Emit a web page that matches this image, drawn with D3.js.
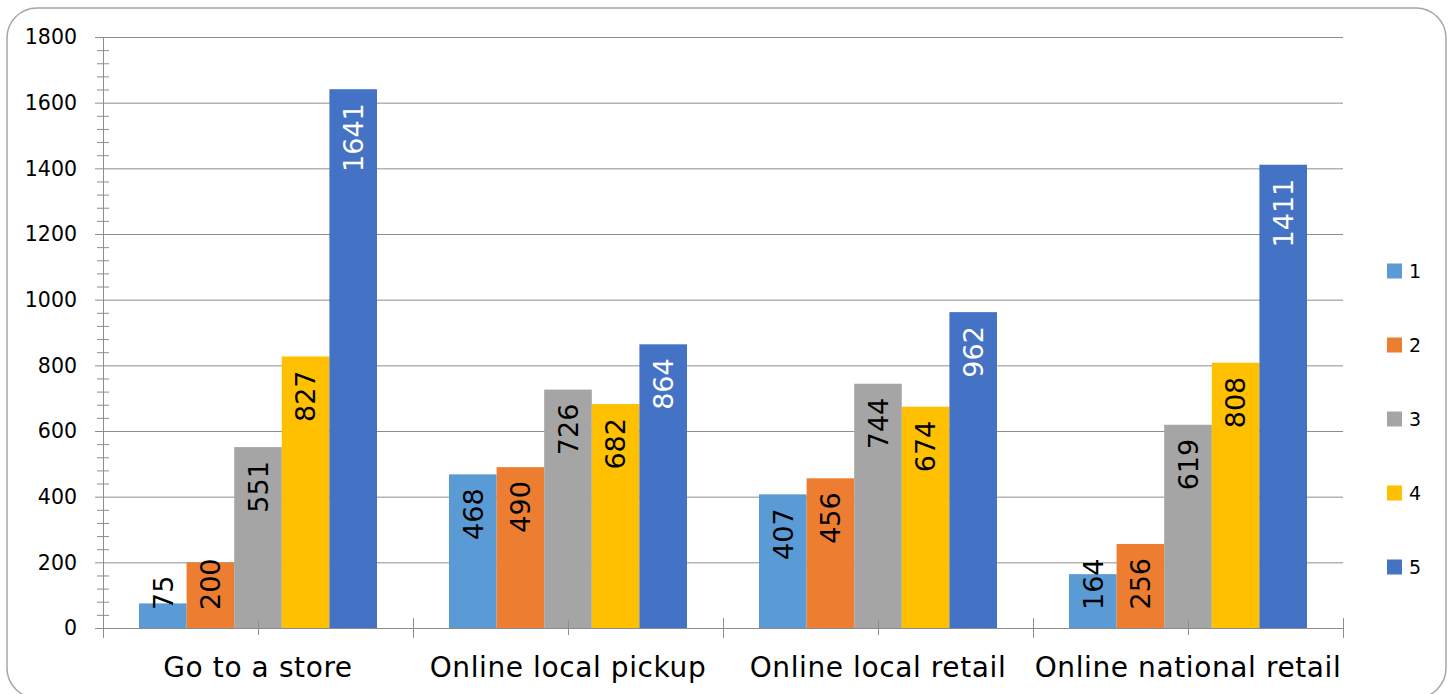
<!DOCTYPE html>
<html>
<head>
<meta charset="utf-8">
<script src="https://cdn.jsdelivr.net/npm/d3@7"></script>
<style>
  body { margin: 0; background: #fff; }
  text { font-family: "DejaVu Sans", Verdana, sans-serif; }
</style>
</head>
<body>
<div id="vis"></div>
<script>
var categories = ["Go to a store", "Online local pickup", "Online local retail", "Online national retail"];
var seriesNames = ["1", "2", "3", "4", "5"];
var seriesColors = ["#5B9BD5", "#ED7D31", "#A5A5A5", "#FFC000", "#4472C4"];
var labelColors = ["#000", "#000", "#000", "#000", "#fff"];
var values = [
  [75, 200, 551, 827, 1641],
  [468, 490, 726, 682, 864],
  [407, 456, 744, 674, 962],
  [164, 256, 619, 808, 1411]
];
var yTicks = [0, 200, 400, 600, 800, 1000, 1200, 1400, 1600, 1800];

var W = 1453, H = 694;
var plot = {left: 103, right: 1343, top: 37, bottom: 628};

var svg = d3.select("#vis").append("svg")
  .attr("width", W).attr("height", H);

// chart border
svg.append("rect")
  .attr("x", 7).attr("y", 8)
  .attr("width", 1439).attr("height", 690)
  .attr("rx", 30).attr("ry", 30)
  .attr("fill", "#fff")
  .attr("stroke", "#a6a6a6")
  .attr("stroke-width", 1.5);

var y = d3.scaleLinear().domain([0, 1800]).range([plot.bottom, plot.top]);
var x0 = d3.scaleBand().domain(categories).range([plot.left, plot.right]);
var bw = x0.bandwidth();
var x1 = d3.scaleBand().domain(seriesNames).range([36, bw - 36]);

// gridlines
svg.append("g").selectAll("line")
  .data(yTicks.filter(function (d) { return d > 0; }))
  .enter().append("line")
  .attr("x1", plot.left).attr("x2", plot.right)
  .attr("y1", function (d) { return y(d) + 0.5; })
  .attr("y2", function (d) { return y(d) + 0.5; })
  .attr("stroke", "#8e8e8e").attr("stroke-width", 1);

// minor ticks on y axis
var minor = d3.range(0, 1801, 40).filter(function (d) { return d % 200 !== 0; });
svg.append("g").selectAll("line")
  .data(minor)
  .enter().append("line")
  .attr("x1", 97).attr("x2", 109)
  .attr("y1", function (d) { return y(d) + 0.5; })
  .attr("y2", function (d) { return y(d) + 0.5; })
  .attr("stroke", "#8e8e8e");

// major ticks
svg.append("g").selectAll("line")
  .data(yTicks)
  .enter().append("line")
  .attr("x1", 95).attr("x2", plot.left)
  .attr("y1", function (d) { return y(d) + 0.5; })
  .attr("y2", function (d) { return y(d) + 0.5; })
  .attr("stroke", "#8e8e8e");

// y labels
svg.append("g").selectAll("text")
  .data(yTicks)
  .enter().append("text")
  .attr("x", 77)
  .attr("y", function (d) { return y(d); })
  .attr("dy", "0.36em")
  .attr("text-anchor", "end")
  .style("font-size", "20.5px")
  .attr("fill", "#000")
  .text(function (d) { return d; });

// bars
var groups = svg.append("g").selectAll("g")
  .data(categories)
  .enter().append("g")
  .attr("transform", function (d) { return "translate(" + x0(d) + ",0)"; });

groups.selectAll("rect")
  .data(function (d, i) { return values[i].map(function (v, j) { return {s: seriesNames[j], j: j, v: v}; }); })
  .enter().append("rect")
  .attr("x", function (d) { return x1(d.s); })
  .attr("width", x1.bandwidth())
  .attr("y", function (d) { return y(d.v); })
  .attr("height", function (d) { return plot.bottom - y(d.v); })
  .attr("fill", function (d) { return seriesColors[d.j]; });

// axes lines
svg.append("line")
  .attr("x1", plot.left + 0.5).attr("x2", plot.left + 0.5)
  .attr("y1", plot.top).attr("y2", 638)
  .attr("stroke", "#8e8e8e");
svg.append("line")
  .attr("x1", plot.left).attr("x2", plot.right)
  .attr("y1", plot.bottom + 0.5).attr("y2", plot.bottom + 0.5)
  .attr("stroke", "#8e8e8e");

// category ticks: boundaries and centers
var bounds = categories.map(function (c) { return x0(c); }).concat([plot.right]);
svg.append("g").selectAll("line")
  .data(bounds.slice(1))
  .enter().append("line")
  .attr("x1", function (d) { return d + 0.5; })
  .attr("x2", function (d) { return d + 0.5; })
  .attr("y1", 618).attr("y2", 638)
  .attr("stroke", "#8e8e8e");
svg.append("g").selectAll("line")
  .data(categories)
  .enter().append("line")
  .attr("x1", function (d) { return x0(d) + bw / 2 + 0.5; })
  .attr("x2", function (d) { return x0(d) + bw / 2 + 0.5; })
  .attr("y1", 620).attr("y2", 635)
  .attr("stroke", "#8e8e8e");

// data labels (rotated)
groups.selectAll("text.lbl")
  .data(function (d, i) { return values[i].map(function (v, j) { return {s: seriesNames[j], j: j, v: v}; }); })
  .enter().append("text")
  .attr("class", "lbl")
  .style("font-size", "27px")
  .attr("text-anchor", "end")
  .attr("fill", function (d) { return labelColors[d.j]; })
  .text(function (d) { return d.v; })
  .each(function (d) {
    var len = this.getComputedTextLength();
    var endY = Math.min(y(d.v) + 14, plot.bottom - 18 - len);
    var cx = x1(d.s) + x1.bandwidth() / 2;
    d3.select(this)
      .attr("transform", "translate(" + cx + "," + endY + ") rotate(-90)")
      .attr("dy", "0.36em");
  });

// category labels
svg.append("g").selectAll("text")
  .data(categories)
  .enter().append("text")
  .attr("x", function (d) { return x0(d) + bw / 2; })
  .attr("y", 677)
  .attr("text-anchor", "middle")
  .style("font-size", "28px")
  .style("letter-spacing", "0.6px")
  .attr("fill", "#000")
  .text(function (d) { return d; });

// legend
var legend = svg.append("g").selectAll("g")
  .data(seriesNames)
  .enter().append("g")
  .attr("transform", function (d, i) { return "translate(1387," + (271 + i * 74) + ")"; });
legend.append("rect")
  .attr("x", 0).attr("y", -7.5)
  .attr("width", 15).attr("height", 15)
  .attr("fill", function (d, i) { return seriesColors[i]; });
legend.append("text")
  .attr("x", 22).attr("y", 0)
  .attr("dy", "0.36em")
  .style("font-size", "19px")
  .attr("fill", "#000")
  .text(function (d) { return d; });
</script>
</body>
</html>
